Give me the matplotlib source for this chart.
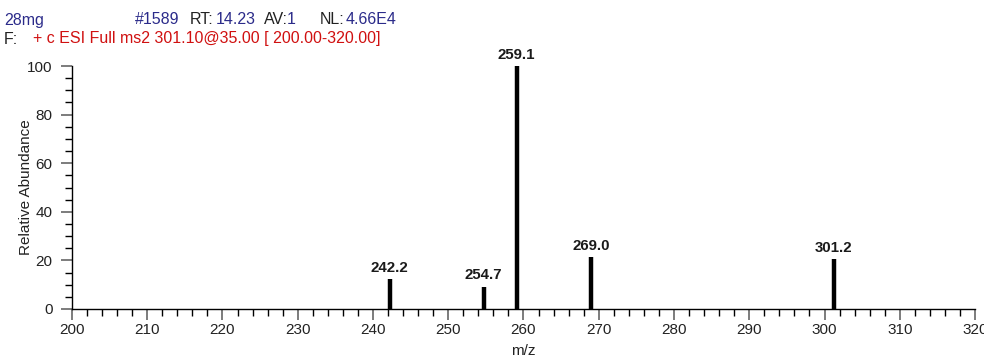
import matplotlib
matplotlib.use("Agg")
import matplotlib.pyplot as plt
from matplotlib.ticker import MultipleLocator

plt.rcParams['font.family'] = ['Liberation Sans', 'DejaVu Sans']

mz = [242.2, 254.7, 259.1, 269.0, 301.2]
abundance = [12.4, 9.2, 100.0, 21.5, 20.6]
peak_labels = ["242.2", "254.7", "259.1", "269.0", "301.2"]

W, H = 984, 361
fig = plt.figure(figsize=(W / 100, H / 100), dpi=100)
ax = fig.add_axes([72 / W, 1 - 309 / H, (975 - 72) / W, (309 - 66) / H])

ax.vlines(mz, 0, abundance, colors="black", linewidth=3.2)
for x, y, lab in zip(mz, abundance, peak_labels):
    ax.annotate(lab, (x, y), xytext=(0, 3), textcoords="offset points",
                ha="center", va="bottom", fontsize=10.8, fontweight="bold",
                color="#1a1a1a", annotation_clip=False)

ax.set_xlim(200, 320)
ax.set_ylim(0, 100)
ax.xaxis.set_major_locator(MultipleLocator(10))
ax.xaxis.set_minor_locator(MultipleLocator(2))
ax.yaxis.set_major_locator(MultipleLocator(20))
ax.yaxis.set_minor_locator(MultipleLocator(5))
for s in ("top", "right"):
    ax.spines[s].set_visible(False)
ax.spines["left"].set_linewidth(1.0)
ax.spines["bottom"].set_linewidth(1.0)
ax.tick_params(axis="both", which="major", length=8, width=1.2, color="#666666",
               labelsize=11, direction="out", labelcolor="#222222")
ax.tick_params(axis="x", which="major", pad=2)
ax.tick_params(axis="y", which="major", pad=6)
ax.tick_params(axis="both", which="minor", length=5, width=1.0, color="black",
               direction="out")
ax.set_xlabel("m/z", fontsize=11, labelpad=5, color="#222222")
ax.set_ylabel("Relative Abundance", fontsize=11, color="#222222")
ax.yaxis.set_label_coords((33 - 72) / (975 - 72), 0.5)

navy = "#2b2b8a"
red = "#d01010"
hdr = 11.5
y1 = 1 - 24.5 / H
y2 = 1 - 43.5 / H
for x, t, c in [(4, "28mg", navy), (135, "#1589", navy), (190, "RT:", "#222222"),
                (216, "14.23", navy), (264, "AV:", "#222222"), (287, "1", navy),
                (320, "NL:", "#222222"), (346, "4.66E4", navy)]:
    fig.text(x / W, y1, t, color=c, fontsize=hdr, ha="left", va="baseline")
fig.text(4 / W, y2, "F:", color="#222222", fontsize=hdr, ha="left", va="baseline")
fig.text(33 / W, y2, "+ c ESI Full ms2 301.10@35.00 [ 200.00-320.00]", color=red,
         fontsize=hdr, ha="left", va="baseline")

fig.savefig("out.png", dpi=100)
